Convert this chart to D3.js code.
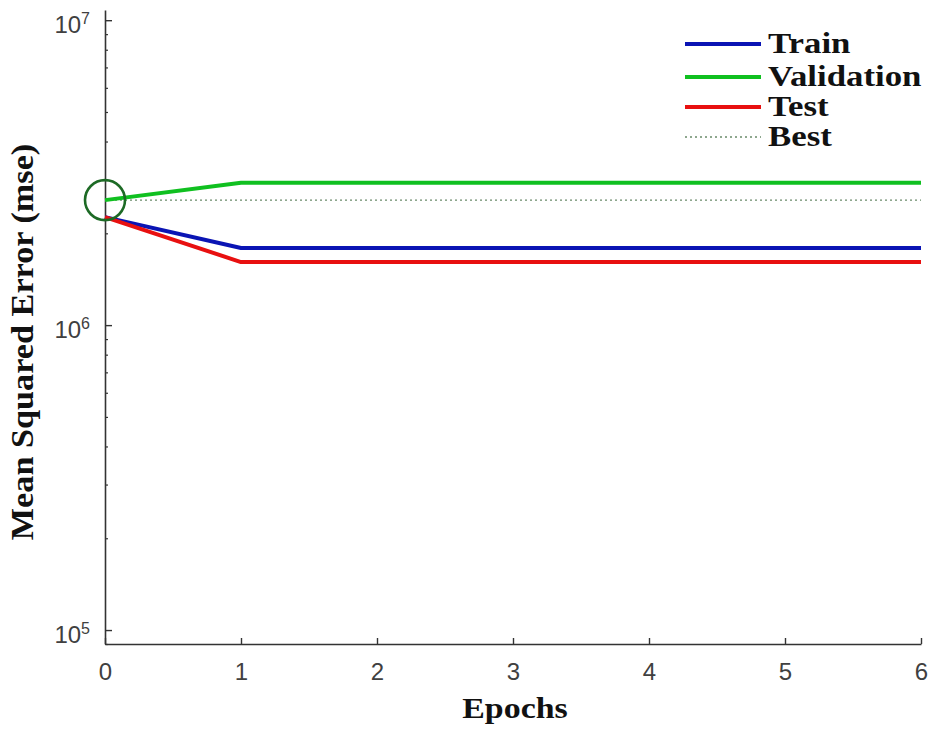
<!DOCTYPE html>
<html>
<head>
<meta charset="utf-8">
<script src="https://cdn.jsdelivr.net/npm/d3@7"></script>
<style>
  body { margin: 0; background: #fff; }
  svg { display: block; }
</style>
</head>
<body>
<div id="chart"></div>
<script>
// data
const epochs = [0, 1, 2, 3, 4, 5, 6];
const trainMse = [2.26e6, 1.79e6, 1.79e6, 1.79e6, 1.79e6, 1.79e6, 1.79e6];
const validationMse = [2.57e6, 2.93e6, 2.93e6, 2.93e6, 2.93e6, 2.93e6, 2.93e6];
const testMse = [2.26e6, 1.61e6, 1.61e6, 1.61e6, 1.61e6, 1.61e6, 1.61e6];
const bestEpoch = 0;
const bestMse = 2.57e6;
const yTickExps = [5, 6, 7];
const legendNames = ['Train', 'Validation', 'Test', 'Best'];

const width = 933, height = 730;
const plotLeft = 105, plotRight = 921, plotTop = 10, plotBottom = 644;

const svg = d3.select('#chart').append('svg')
    .attr('width', width)
    .attr('height', height);

const x = d3.scaleLinear().domain([0, 6]).range([plotLeft, plotRight]);
const y = d3.scaleLog().domain([9.0e4, 1.08e7]).range([plotBottom, plotTop]);

const axisColor = '#333';
const labelColor = '#404040';
const serif = '"Liberation Serif", "Times New Roman", serif';
const sans = '"Liberation Sans", Arial, sans-serif';

// x axis, ticks pointing inward
const xAxis = svg.append('g')
    .attr('transform', 'translate(0,' + plotBottom + ')')
    .call(d3.axisBottom(x).tickValues(epochs).tickFormat(d3.format('d'))
      .tickSize(-6).tickSizeOuter(0).tickPadding(19));
xAxis.select('.domain').attr('stroke', axisColor).attr('stroke-width', 1.6);
xAxis.selectAll('line').attr('stroke', axisColor).attr('stroke-width', 1.4);
xAxis.selectAll('text')
    .style('font-family', sans)
    .style('font-size', '24px')
    .attr('fill', labelColor);

// y axis minor ticks
const minorTicks = [];
for (let e = 4; e <= 7; e++) {
  for (let m = 2; m <= 9; m++) {
    const v = m * Math.pow(10, e);
    if (v >= y.domain()[0] && v <= y.domain()[1]) minorTicks.push(v);
  }
}
const yMinor = svg.append('g')
    .attr('transform', 'translate(' + plotLeft + ',0)')
    .call(d3.axisLeft(y).tickValues(minorTicks).tickSize(-3).tickSizeOuter(0).tickFormat(''));
yMinor.select('.domain').remove();
yMinor.selectAll('line').attr('stroke', axisColor).attr('stroke-width', 1.2);

// y axis major ticks
const yAxis = svg.append('g')
    .attr('transform', 'translate(' + plotLeft + ',0)')
    .call(d3.axisLeft(y).tickValues(yTickExps.map(e => Math.pow(10, e)))
      .tickSize(-7).tickSizeOuter(0).tickFormat(''));
yAxis.select('.domain').attr('stroke', axisColor).attr('stroke-width', 1.6);
yAxis.selectAll('line').attr('stroke', axisColor).attr('stroke-width', 1.4);

yAxis.selectAll('.tick').append('text')
    .attr('x', -15)
    .attr('y', 12)
    .attr('text-anchor', 'end')
    .attr('fill', labelColor)
    .style('font-family', sans)
    .style('font-size', '24px')
    .each(function(d, i) {
      const t = d3.select(this);
      t.append('tspan').text('10');
      t.append('tspan')
          .attr('dy', -9)
          .style('font-size', '16px')
          .text(yTickExps[i]);
    });

// series
const series = [
  { name: 'Train', values: trainMse, color: '#0a14b4' },
  { name: 'Validation', values: validationMse, color: '#10c020' },
  { name: 'Test', values: testMse, color: '#e81010' }
];

const line = d3.line()
    .x((d, i) => x(epochs[i]))
    .y(d => y(d));

// best line
svg.append('line')
    .attr('x1', x(0)).attr('x2', x(6))
    .attr('y1', y(bestMse)).attr('y2', y(bestMse))
    .attr('stroke', '#6a8a6a')
    .attr('stroke-width', 1.3)
    .attr('stroke-dasharray', '2,3');

svg.selectAll('.series')
    .data(series)
    .enter().append('path')
    .attr('class', 'series')
    .attr('d', d => line(d.values))
    .attr('fill', 'none')
    .attr('stroke', d => d.color)
    .attr('stroke-width', 4)
    .attr('stroke-linejoin', 'round');

// best marker circle
svg.append('circle')
    .attr('cx', x(bestEpoch))
    .attr('cy', y(bestMse))
    .attr('r', 20)
    .attr('fill', 'none')
    .attr('stroke', '#1d6a25')
    .attr('stroke-width', 2.6);

// legend
const legend = svg.append('g').attr('transform', 'translate(685,44)');
const legendRows = legend.selectAll('g')
    .data(legendNames)
    .enter().append('g')
    .attr('transform', (d, i) => 'translate(0,' + [0, 33, 63, 93][i] + ')');

legendRows.append('line')
    .attr('x1', 0).attr('x2', 76)
    .attr('y1', 0).attr('y2', 0)
    .attr('stroke', (d, i) => i < 3 ? series[i].color : '#6a8a6a')
    .attr('stroke-width', (d, i) => i < 3 ? 4 : 1.3)
    .attr('stroke-dasharray', (d, i) => i < 3 ? null : '2,3');

legendRows.append('text')
    .attr('transform', 'translate(83,9) scale(1.2,1)')
    .style('font-family', serif)
    .style('font-weight', 'bold')
    .style('font-size', '29px')
    .attr('fill', '#111')
    .text(d => d);

// axis titles
svg.append('text')
    .attr('transform', 'translate(33,342) rotate(-90) scale(1.07,1)')
    .attr('text-anchor', 'middle')
    .style('font-family', serif)
    .style('font-weight', 'bold')
    .style('font-size', '32px')
    .attr('fill', '#111')
    .text('Mean Squared Error (mse)');

svg.append('text')
    .attr('transform', 'translate(515,718) scale(1.13,1)')
    .attr('text-anchor', 'middle')
    .style('font-family', serif)
    .style('font-weight', 'bold')
    .style('font-size', '30px')
    .attr('fill', '#111')
    .text('Epochs');
</script>
</body>
</html>
